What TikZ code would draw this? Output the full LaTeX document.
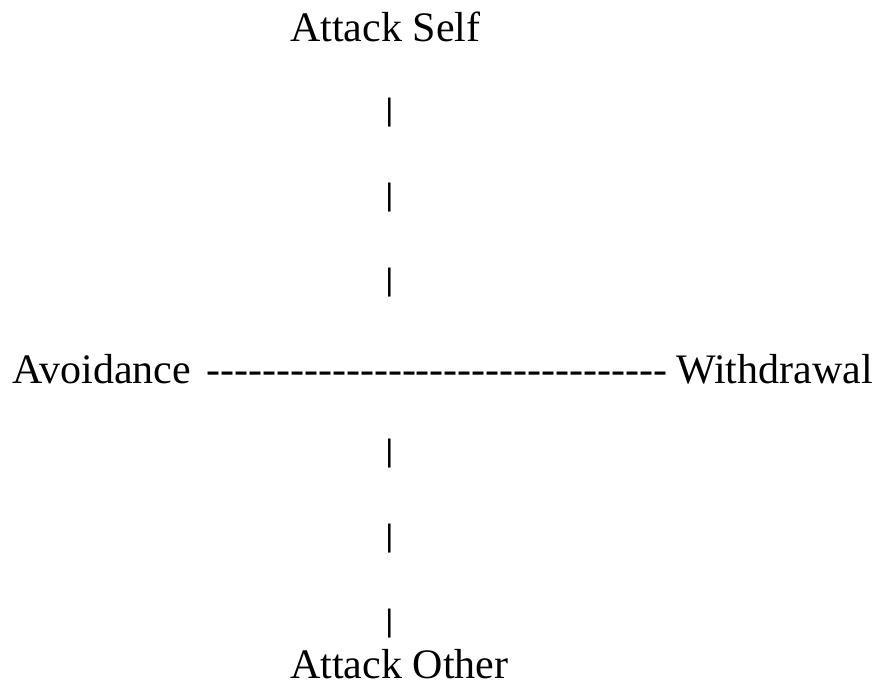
\documentclass[tikz,border=0pt]{standalone}
\usepackage{fontspec}
\usepackage{tikz}
\newfontfamily\timesfont{Liberation Serif}
\newfontfamily\barfont{Liberation Sans}
\tikzset{word/.style={inner sep=0pt, anchor=base west, font=\timesfont\fontsize{42}{50}\selectfont},
         barmark/.style={inner sep=0pt, anchor=center, font=\barfont\fontsize{31}{36}\selectfont}}

\begin{document}
\begin{tikzpicture}[x=1pt, y=-1pt]
\useasboundingbox (0,0) rectangle (880,684);
\node[word] (self) at (290,42) {Attack Self};
\node[barmark] (b1) at (389.5,112.5) {|};
\node[barmark] (b2) at (389.5,197.5) {|};
\node[barmark] (b3) at (389.5,282.5) {|};
\node[word] (avoid) at (12,383) {Avoidance};
\node[word] (dashes) at (206,383) {---------------------------------};
\node[word] (withdraw) at (676,383) {Withdrawal};
\node[barmark] (b4) at (389.5,453.5) {|};
\node[barmark] (b5) at (389.5,538.5) {|};
\node[barmark] (b6) at (389.5,623.5) {|};
\node[word] (other) at (290,678.5) {Attack Other};
\end{tikzpicture}
\end{document}
